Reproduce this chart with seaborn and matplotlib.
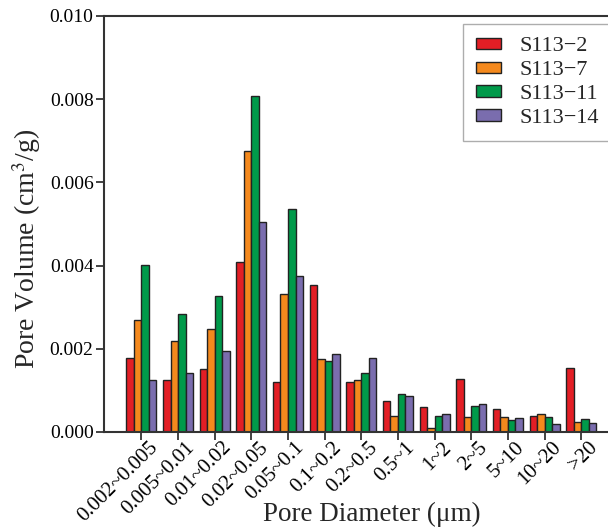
import pandas as pd
import numpy as np
import matplotlib
matplotlib.use("Agg")
import matplotlib.pyplot as plt
import matplotlib.transforms as mtrans
import seaborn as sns

# --- Data ---
diameters = ['0.002~0.005', '0.005~0.01', '0.01~0.02', '0.02~0.05', '0.05~0.1',
             '0.1~0.2', '0.2~0.5', '0.5~1', '1~2', '2~5', '5~10', '10~20', '>20']
samples = ['S113\u22122', 'S113\u22127', 'S113\u221211', 'S113\u221214']

s113_2 = [0.00178, 0.00125, 0.00151, 0.00408, 0.00120, 0.00354, 0.00120,
          0.00075, 0.00061, 0.00128, 0.00055, 0.00039, 0.00153]
s113_7 = [0.00270, 0.00219, 0.00248, 0.00675, 0.00332, 0.00176, 0.00125,
          0.00039, 0.00010, 0.00037, 0.00035, 0.00043, 0.00025]
s113_11 = [0.00401, 0.00284, 0.00326, 0.00807, 0.00535, 0.00171, 0.00141,
           0.00091, 0.00039, 0.00063, 0.00029, 0.00037, 0.00031]
s113_14 = [0.00125, 0.00141, 0.00195, 0.00504, 0.00376, 0.00187, 0.00179,
           0.00087, 0.00043, 0.00067, 0.00034, 0.00019, 0.00021]

PALETTE = ['#E31E25', '#F4891D', '#009A4A', '#7A6DAE']

df = pd.DataFrame({
    'Diameter': diameters * 4,
    'Sample': np.repeat(samples, len(diameters)),
    'Volume': s113_2 + s113_7 + s113_11 + s113_14,
})

# --- Style ---
sns.set_style("ticks")
plt.rcParams['font.family'] = ['Liberation Serif', 'DejaVu Serif']
plt.rcParams['mathtext.fontset'] = 'stix'

fig = plt.figure(figsize=(6.08, 5.28), dpi=100)
ax = fig.add_axes([104 / 608, 96 / 528, 508 / 608, 416 / 528])

sns.barplot(data=df, x='Diameter', y='Volume', hue='Sample',
            palette=PALETTE, order=diameters, hue_order=samples,
            width=0.82, edgecolor='#222222', linewidth=1.0,
            saturation=1, errorbar=None, ax=ax)

ax.set_xlim(-1.02, 12.84)
ax.set_ylim(0, 0.010)
ax.set_yticks(np.arange(0, 0.0101, 0.002))
ax.yaxis.set_major_formatter(matplotlib.ticker.FormatStrFormatter('%.3f'))

ax.tick_params(axis='y', labelsize=14, direction='out', length=6, width=1.2,
               pad=1.5, color='#222222', labelcolor='black')
ax.tick_params(axis='x', direction='out', length=6, width=1.2, pad=-3,
               color='#222222', labelcolor='black')

# tick_params resets label transforms, so the nudge comes after it
ax.set_xticks(range(len(diameters)))
ax.set_xticklabels(diameters, rotation=45, ha='right', va='top',
                   rotation_mode='anchor', fontsize=15)
shift = mtrans.ScaledTranslation(0.07, -0.02, fig.dpi_scale_trans)
for lbl in ax.get_xticklabels():
    lbl.set_transform(lbl.get_transform() + shift)

ax.set_xlabel('Pore Diameter (\u03bcm)', fontsize=19.5)
ax.xaxis.set_label_coords(0.528, -0.168)
ax.set_ylabel('Pore Volume (cm$^3$/g)', fontsize=20)
ax.yaxis.set_label_coords(-0.12, 0.44)

for side in ['left', 'bottom', 'top', 'right']:
    ax.spines[side].set_linewidth(1.5)
    ax.spines[side].set_color('#333333')

leg = ax.legend(loc='upper right', bbox_to_anchor=(1.0, 0.981), fontsize=16,
                frameon=True, fancybox=False, edgecolor='#999999',
                borderaxespad=0, handlelength=1.15, handleheight=0.4,
                handletextpad=0.8, labelspacing=0.22, borderpad=0.6)
leg.get_frame().set_linewidth(1.0)

fig.savefig('out.png', dpi=100)
